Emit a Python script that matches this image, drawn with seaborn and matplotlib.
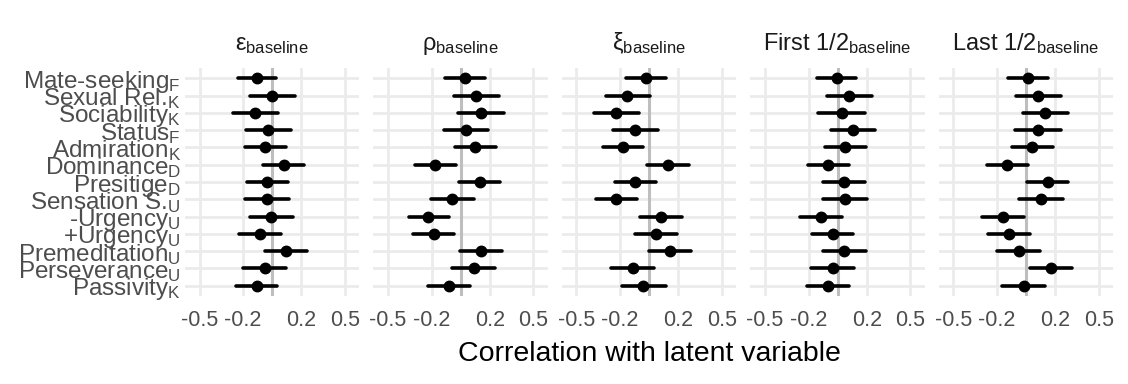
import numpy as np
import pandas as pd
import matplotlib
matplotlib.use("Agg")
import matplotlib.pyplot as plt
import seaborn as sns

traits = ["Mate-seeking$_{\\mathrm{F}}$", "Sexual Rel.$_{\\mathrm{K}}$", "Sociability$_{\\mathrm{K}}$",
          "Status$_{\\mathrm{F}}$", "Admiration$_{\\mathrm{K}}$", "Dominance$_{\\mathrm{D}}$",
          "Presitige$_{\\mathrm{D}}$", "Sensation S.$_{\\mathrm{U}}$", "-Urgency$_{\\mathrm{U}}$",
          "+Urgency$_{\\mathrm{U}}$", "Premeditation$_{\\mathrm{U}}$", "Perseverance$_{\\mathrm{U}}$",
          "Passivity$_{\\mathrm{K}}$"]

panels = ["ε$_{\\mathrm{baseline}}$", "ρ$_{\\mathrm{baseline}}$", "ξ$_{\\mathrm{baseline}}$",
          "First 1/2$_{\\mathrm{baseline}}$", "Last 1/2$_{\\mathrm{baseline}}$"]

eps_est = [-0.105, 0.001, -0.117, -0.027, -0.047, 0.078, -0.036, -0.036, -0.006, -0.085, 0.092, -0.052, -0.108]
eps_lo = [-0.235, -0.150, -0.270, -0.180, -0.184, -0.066, -0.177, -0.184, -0.151, -0.226, -0.052, -0.198, -0.251]
eps_hi = [0.029, 0.154, 0.038, 0.128, 0.098, 0.221, 0.108, 0.117, 0.140, 0.059, 0.237, 0.094, 0.036]

rho_est = [0.031, 0.108, 0.138, 0.036, 0.099, -0.175, 0.131, -0.057, -0.224, -0.184, 0.143, 0.089, -0.080]
rho_lo = [-0.106, -0.043, -0.017, -0.117, -0.038, -0.317, -0.010, -0.203, -0.358, -0.326, -0.003, -0.057, -0.222]
rho_hi = [0.166, 0.261, 0.296, 0.191, 0.240, -0.034, 0.270, 0.092, -0.082, -0.045, 0.282, 0.235, 0.066]

xi_est = [-0.021, -0.149, -0.226, -0.095, -0.177, 0.130, -0.095, -0.228, 0.081, 0.047, 0.144, -0.114, -0.040]
xi_lo = [-0.156, -0.300, -0.377, -0.247, -0.316, -0.012, -0.235, -0.367, -0.060, -0.095, 0.000, -0.260, -0.188]
xi_hi = [0.116, 0.005, -0.072, 0.060, -0.040, 0.272, 0.049, -0.081, 0.228, 0.193, 0.291, 0.033, 0.114]

first_est = [-0.007, 0.081, 0.028, 0.106, 0.053, -0.065, 0.042, 0.051, -0.115, -0.032, 0.046, -0.032, -0.069]
first_lo = [-0.141, -0.072, -0.134, -0.046, -0.085, -0.206, -0.102, -0.099, -0.256, -0.176, -0.102, -0.180, -0.212]
first_hi = [0.129, 0.236, 0.185, 0.259, 0.196, 0.081, 0.185, 0.203, 0.030, 0.109, 0.192, 0.115, 0.076]

last_est = [0.014, 0.084, 0.130, 0.081, 0.042, -0.128, 0.149, 0.105, -0.156, -0.119, -0.051, 0.172, -0.016]
last_lo = [-0.121, -0.070, -0.023, -0.074, -0.098, -0.270, 0.009, -0.047, -0.300, -0.265, -0.202, 0.026, -0.163]
last_hi = [0.149, 0.237, 0.288, 0.237, 0.186, 0.016, 0.288, 0.256, -0.012, 0.026, 0.098, 0.319, 0.130]

xticks = [-0.5, -0.2, 0.2, 0.5]
xticklabels = ["-0.5", "-0.2", "0.2", "0.5"]

series = [(eps_est, eps_lo, eps_hi), (rho_est, rho_lo, rho_hi), (xi_est, xi_lo, xi_hi),
          (first_est, first_lo, first_hi), (last_est, last_lo, last_hi)]

rows = []
for p, (est, lo, hi) in zip(panels, series):
    for t, e, l, h in zip(traits, est, lo, hi):
        for v in (l, e, h):
            rows.append({"panel": p, "trait": t, "value": v})
df = pd.DataFrame(rows)

sns.set_theme(style="white")
plt.rcParams["font.family"] = ["Liberation Sans", "DejaVu Sans"]
plt.rcParams["mathtext.fontset"] = "custom"
plt.rcParams["mathtext.rm"] = "Liberation Sans"
plt.rcParams["mathtext.it"] = "Liberation Sans:italic"
plt.rcParams["mathtext.bf"] = "Liberation Sans:bold"

fig, axes = plt.subplots(1, 5, figsize=(11.28, 3.84), dpi=100, sharey=True)
fig.subplots_adjust(left=0.164, right=0.987, top=0.823, bottom=0.229, wspace=0.08)

for ax, p in zip(axes, panels):
    sub = df[df["panel"] == p]
    ax.axvline(0, color="#BEBEBE", linewidth=2.2, zorder=1)
    sns.pointplot(data=sub, x="value", y="trait", order=traits, estimator="median",
                  errorbar=("pi", 100), color="black", marker="o", linestyle="none",
                  markersize=6.5, err_kws={"linewidth": 2.6}, ax=ax, zorder=3)
    ax.set_xlim(-0.6, 0.6)
    ax.set_ylim(len(traits) - 1 + 0.6, -0.6)
    ax.set_xticks(xticks)
    ax.set_xticklabels(xticklabels, fontsize=15.5, color="#4D4D4D")
    ax.grid(True, color="#EBEBEB", linewidth=2.0, zorder=0)
    ax.set_axisbelow(True)
    for s in ax.spines.values():
        s.set_visible(False)
    ax.tick_params(length=0, pad=10)
    ax.set_xlabel("")
    ax.set_ylabel("")
    ax.set_title(p, fontsize=17, color="#1A1A1A", pad=13)

axes[0].set_yticks(range(len(traits)))
axes[0].set_yticklabels(traits, fontsize=17.5, color="#4D4D4D")
axes[0].tick_params(axis="y", pad=3)

fig.text((0.164 + 0.987) / 2, 0.045, "Correlation with latent variable", ha="center",
         va="bottom", fontsize=20.5, color="black")

fig.savefig("out.png", dpi=100)
